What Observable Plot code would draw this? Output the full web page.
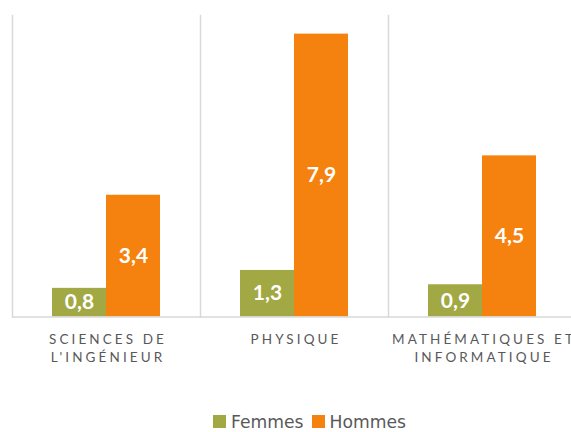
<!DOCTYPE html>
<html><head><meta charset="utf-8">
<script src="https://cdn.jsdelivr.net/npm/d3@7"></script>
<script src="https://cdn.jsdelivr.net/npm/@observablehq/plot@0.6"></script>
<style>
html,body{margin:0;padding:0;background:#fff;overflow:hidden;width:571px;height:432px}
#chart{width:571px;height:400px;overflow:hidden}
#chart svg{display:block;max-width:none !important;height:400px !important}
#chart svg text{letter-spacing:3.1px}
#chart svg g[font-weight="bold"] text{letter-spacing:0}
#legend{display:flex;justify-content:center;margin-top:13.5px;padding-left:48px;height:16px}
#legend [class*="swatches"]{font-family:"DejaVu Sans",sans-serif !important;font-size:17.2px !important;line-height:16px;color:#595959 !important;min-height:0 !important;margin:0 !important;display:flex;align-items:center}
#legend [class*="swatches"] svg{margin-right:5px !important}
#legend [class*="swatches"] > span{margin-right:8px !important}
#legend [class*="swatches"] > span:last-child{margin-right:0 !important}
</style></head><body><div id="chart"></div><div id="legend"></div>
<script>
const groups = ["Sciences de l'ingénieur", "Physique", "Mathématiques et informatique"];
const groupLabels = ["SCIENCES DE\nL'INGÉNIEUR", "PHYSIQUE", "MATHÉMATIQUES ET\nINFORMATIQUE"];
const series = ["Femmes", "Hommes"];
const femmes = [0.8, 1.3, 0.9];
const hommes = [3.4, 7.9, 4.5];
const colors = ["#A1A844", "#F5820F"];

const data = groups.flatMap((g, i) => [
  {group: g, series: series[0], value: femmes[i]},
  {group: g, series: series[1], value: hommes[i]}
]);
const fmt = v => v.toFixed(1).replace(".", ",");

const plot = Plot.plot({
  width: 577, height: 400,
  marginTop: 15, marginBottom: 83.5, marginLeft: 11, marginRight: 0,
  style: {fontFamily: "Lato, sans-serif", background: "white", overflow: "visible"},
  fx: {domain: groups, padding: 0, axis: null, label: null},
  x: {domain: series, paddingInner: 0, paddingOuter: 0.7155, axis: null},
  y: {domain: [0, 8.42], axis: null},
  color: {domain: series, range: colors},
  marks: [
    Plot.frame({anchor: "left", stroke: "#d9d9d9", strokeWidth: 1.5}),
    Plot.barY(data, {fx: "group", x: "series", y: "value", fill: "series"}),
    Plot.ruleY([0], {stroke: "#d9d9d9", strokeWidth: 1.5}),
    Plot.text(data, {fx: "group", x: "series", y: d => d.value / 2, text: d => fmt(d.value),
      fill: "white", fontWeight: "bold", fontSize: 21}),
    Plot.text(groups, {fx: d => d, text: (d, i) => groupLabels[i], frameAnchor: "bottom",
      lineAnchor: "top", dy: 14, dx: 1.5, fontSize: 13.5, lineHeight: 1.33, fill: "#595959",
      ariaLabel: "category labels"})
  ]
});
document.getElementById("chart").appendChild(plot);

const legend = Plot.legend({
  color: {domain: series, range: colors},
  legend: "swatches", swatchSize: 13
});
document.getElementById("legend").appendChild(legend);
</script>
</body></html>
